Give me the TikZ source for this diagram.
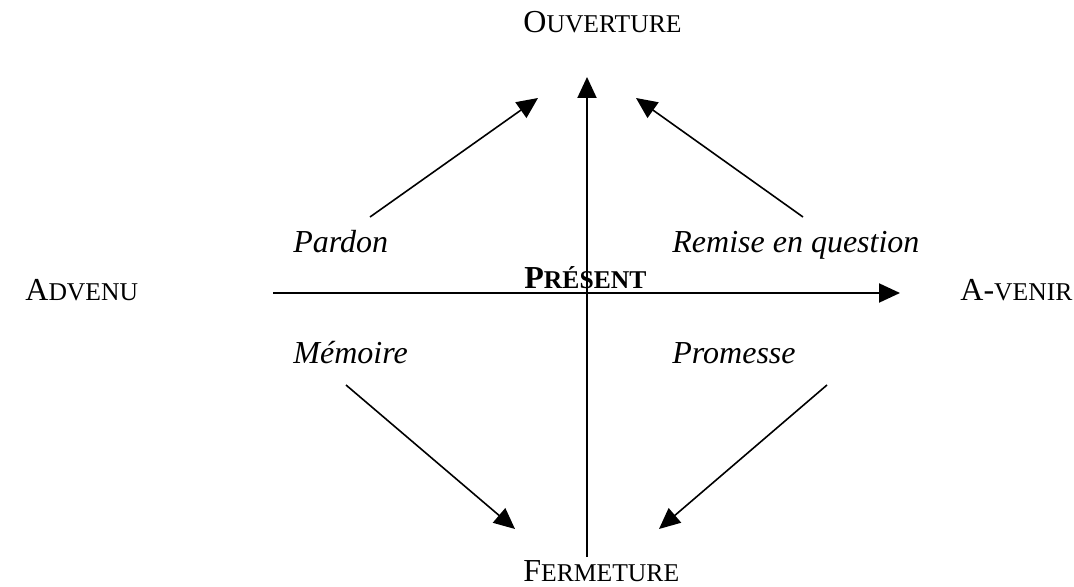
\documentclass[tikz,border=0pt]{standalone}
\usepackage{fontspec}
\setmainfont{Liberation Serif}
\usepackage{tikz}
\usetikzlibrary{arrows.meta}
\newcommand{\petitecap}[2]{#1{\fontsize{12.8pt}{15pt}\selectfont #2}}

\begin{document}
\begin{tikzpicture}[
    x=0.5pt, y=-0.5pt,
    every node/.style={font=\fontsize{16pt}{19pt}\selectfont, inner sep=0pt},
    pole/.style={anchor=base west},
    mot/.style={anchor=base west, font=\fontsize{16pt}{19pt}\selectfont\itshape},
    axe/.style={-{Triangle[length=10.5pt, width=9.5pt]}, line width=1pt},
    fleche/.style={-{Triangle[length=10.5pt, width=9.5pt]}, line width=0.8pt}
]
  \useasboundingbox (0,0) rectangle (1074,587);

  % les quatre poles
  \node[pole] (ouverture) at (523,33) {\petitecap{O}{UVERTURE}};
  \node[pole] (fermeture) at (523,581) {\petitecap{F}{ERMETURE}};
  \node[pole] (advenu) at (25,300) {\petitecap{A}{DVENU}};
  \node[pole] (avenir) at (960,300) {\petitecap{A-}{VENIR}};
  \node[pole, font=\fontsize{16pt}{19pt}\selectfont\bfseries] (present) at (524,289) {\petitecap{P}{RÉSENT}};

  \node[mot] (pardon) at (293,253) {Pardon};
  \node[mot] (remise) at (672,253) {Remise en question};
  \node[mot] (memoire) at (293,363) {Mémoire};
  \node[mot] (promesse) at (672,363) {Promesse};

  % extremites des fleches
  \coordinate (h-debut) at (273,293);
  \coordinate (h-fin) at (900,293);
  \coordinate (v-debut) at (587,557);
  \coordinate (v-fin) at (587,77);
  \coordinate (pardon-depart) at (370,217);
  \coordinate (pardon-but) at (538,98);
  \coordinate (remise-depart) at (803,217);
  \coordinate (remise-but) at (636,98);
  \coordinate (memoire-depart) at (346,385);
  \coordinate (memoire-but) at (515,529);
  \coordinate (promesse-depart) at (827,385);
  \coordinate (promesse-but) at (659,529);

  \draw[axe] (h-debut) -- (h-fin);
  \draw[axe] (v-debut) -- (v-fin);

  \draw[fleche] (pardon-depart) -- (pardon-but);
  \draw[fleche] (remise-depart) -- (remise-but);
  \draw[fleche] (memoire-depart) -- (memoire-but);
  \draw[fleche] (promesse-depart) -- (promesse-but);
\end{tikzpicture}
\end{document}
